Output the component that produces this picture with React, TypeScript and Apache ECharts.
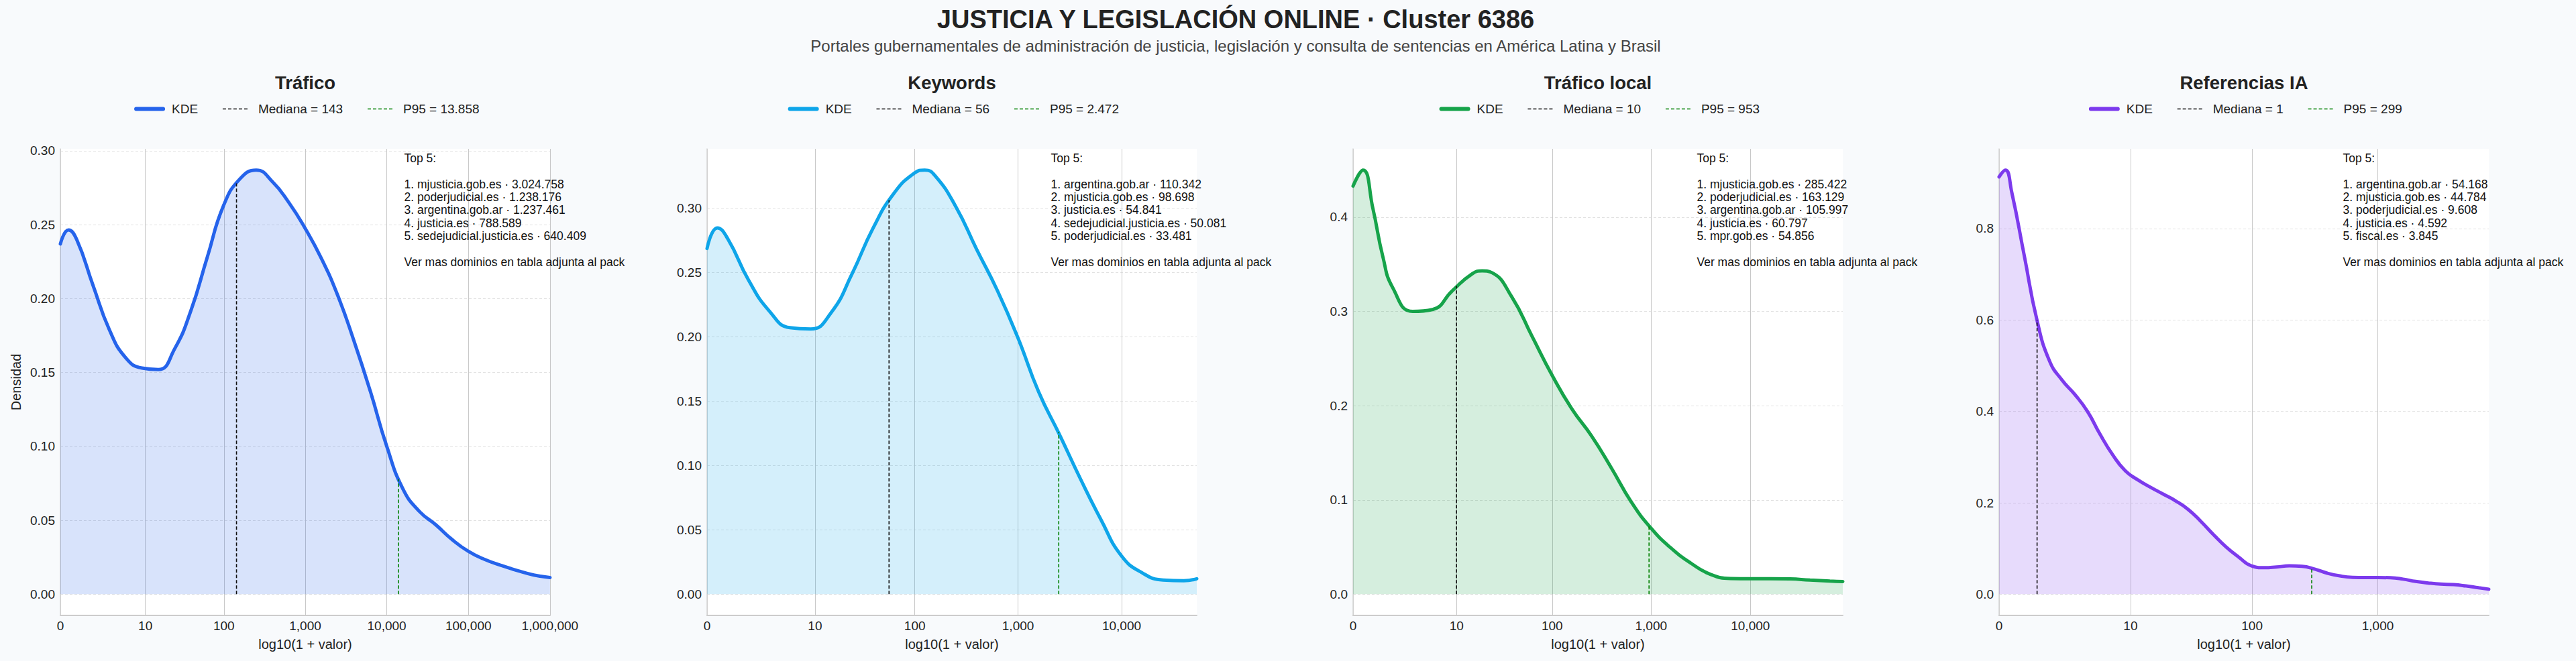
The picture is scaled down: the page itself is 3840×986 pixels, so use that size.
import React, { useEffect, useRef } from "react";
import * as echarts from "echarts";

const FONT = "'Liberation Sans', Arial, sans-serif";

const panelTitles = ["Tráfico", "Keywords", "Tráfico local", "Referencias IA"];
const panelColors = ["#2563eb", "#0ea5e9", "#16a34a", "#7c3aed"];

// KDE curves; x is log10(1 + valor)
const traficoX = [0, 0.1, 0.2, 0.4, 0.6, 0.8, 1.0, 1.2, 1.4, 1.6, 1.8, 2.0, 2.2, 2.4, 2.6, 2.8, 3.0, 3.2, 3.4, 3.6, 3.8, 4.0, 4.2, 4.4, 4.6, 4.8, 5.0, 5.2, 5.4, 5.6, 5.8, 6.0];
const traficoY = [0.237, 0.2465, 0.24, 0.209, 0.179, 0.16, 0.153, 0.152, 0.166, 0.192, 0.228, 0.263, 0.281, 0.287, 0.279, 0.265, 0.2475, 0.227, 0.202, 0.171, 0.137, 0.1, 0.071, 0.056, 0.047, 0.037, 0.029, 0.0235, 0.0195, 0.016, 0.013, 0.0113];

const keywordsX = [0, 0.1, 0.2, 0.4, 0.6, 0.8, 1.0, 1.2, 1.4, 1.6, 1.8, 2.0, 2.1, 2.2, 2.4, 2.6, 2.8, 3.0, 3.2, 3.4, 3.6, 3.8, 4.0, 4.2, 4.4, 4.6, 4.725];
const keywordsY = [0.2685, 0.2845, 0.276, 0.244, 0.22, 0.207, 0.206, 0.219, 0.249, 0.284, 0.311, 0.327, 0.3294, 0.325, 0.301, 0.268, 0.236, 0.199, 0.157, 0.124, 0.09, 0.058, 0.0296, 0.0165, 0.011, 0.0105, 0.012];

const localX = [0, 0.1, 0.2, 0.3, 0.4, 0.6, 0.8, 1.0, 1.2, 1.3, 1.4, 1.6, 1.8, 2.0, 2.2, 2.4, 2.6, 2.8, 3.0, 3.2, 3.4, 3.6, 3.8, 4.0, 4.2, 4.4, 4.6, 4.8, 4.93];
const localY = [0.433, 0.45, 0.409, 0.358, 0.325, 0.3, 0.302, 0.322, 0.34, 0.343, 0.341, 0.315, 0.274, 0.233, 0.197, 0.168, 0.134, 0.098, 0.07, 0.049, 0.033, 0.021, 0.0167, 0.0165, 0.0165, 0.0162, 0.015, 0.014, 0.0135];

const iaX = [0, 0.05, 0.1, 0.2, 0.3, 0.4, 0.5, 0.6, 0.7, 0.8, 0.9, 1.0, 1.1, 1.2, 1.3, 1.4, 1.5, 1.6, 1.7, 1.8, 1.9, 2.0, 2.1, 2.2, 2.3, 2.4, 2.5, 2.6, 2.7, 2.8, 2.9, 3.0, 3.1, 3.2, 3.3, 3.4, 3.5, 3.6, 3.7, 3.8, 3.88];
const iaY = [0.913, 0.928, 0.88, 0.74, 0.6, 0.51, 0.468, 0.437, 0.4, 0.35, 0.305, 0.27, 0.25, 0.234, 0.219, 0.204, 0.185, 0.159, 0.13, 0.103, 0.081, 0.062, 0.058, 0.0595, 0.062, 0.061, 0.055, 0.046, 0.04, 0.037, 0.0365, 0.0365, 0.036, 0.033, 0.028, 0.0245, 0.022, 0.021, 0.018, 0.014, 0.011];

const curveX = [traficoX, keywordsX, localX, iaX];
const curveY = [traficoY, keywordsY, localY, iaY];

const medianValues = [143, 56, 10, 1];
const p95Values = [13858, 2472, 953, 299];
const medianTops = [0.278, 0.306, 0.327, 0.6];
const p95Tops = [0.078, 0.126, 0.072, 0.0566];

const xTickValues = [
  [0, 10, 100, 1000, 10000, 100000, 1000000],
  [0, 10, 100, 1000, 10000],
  [0, 10, 100, 1000, 10000],
  [0, 10, 100, 1000],
];
const xMax = [6.001, 4.725, 4.93, 3.88];
const yTickValues = [
  [0, 0.05, 0.1, 0.15, 0.2, 0.25, 0.3],
  [0, 0.05, 0.1, 0.15, 0.2, 0.25, 0.3],
  [0, 0.1, 0.2, 0.3, 0.4],
  [0, 0.2, 0.4, 0.6, 0.8],
];
const yDecimals = [2, 2, 1, 1];

const top5Domains = [
  ["mjusticia.gob.es", "poderjudicial.es", "argentina.gob.ar", "justicia.es", "sedejudicial.justicia.es"],
  ["argentina.gob.ar", "mjusticia.gob.es", "justicia.es", "sedejudicial.justicia.es", "poderjudicial.es"],
  ["mjusticia.gob.es", "poderjudicial.es", "argentina.gob.ar", "justicia.es", "mpr.gob.es"],
  ["argentina.gob.ar", "mjusticia.gob.es", "poderjudicial.es", "justicia.es", "fiscal.es"],
];
const top5Values = [
  [3024758, 1238176, 1237461, 788589, 640409],
  [110342, 98698, 54841, 50081, 33481],
  [285422, 163129, 105997, 60797, 54856],
  [54168, 44784, 9608, 4592, 3845],
];

const gridLefts = [90, 1054, 2017, 2980];
const gridWidth = 730;
const gridTop = 222;
const gridHeight = 696;

const dots = (n: number) => String(n).replace(/\B(?=(\d{3})+(?!\d))/g, ".");
const commas = (n: number) => String(n).replace(/\B(?=(\d{3})+(?!\d))/g, ",");
const toLog = (v: number) => Math.log10(1 + v);

const App: React.FC = () => {
  const chartRef = useRef<HTMLDivElement>(null);

  useEffect(() => {
    document.body.style.margin = "0";
    document.body.style.overflow = "hidden";
    if (!chartRef.current) return;
    const chart = echarts.init(chartRef.current, undefined, { renderer: "svg" });

    const ctx = document.createElement("canvas").getContext("2d")!;
    ctx.font = `19px ${FONT}`;

    const grids: any[] = [];
    const xAxes: any[] = [];
    const yAxes: any[] = [];
    const series: any[] = [];
    const legends: any[] = [];
    const graphics: any[] = [
      {
        type: "text",
        x: 1842,
        y: 29,
        style: {
          text: "JUSTICIA Y LEGISLACIÓN ONLINE · Cluster 6386",
          font: `bold 38px ${FONT}`,
          fill: "#222222",
          align: "center",
          verticalAlign: "middle",
        },
      },
      {
        type: "text",
        x: 1842,
        y: 68,
        style: {
          text: "Portales gubernamentales de administración de justicia, legislación y consulta de sentencias en América Latina y Brasil",
          font: `24px ${FONT}`,
          fill: "#444444",
          align: "center",
          verticalAlign: "middle",
        },
      },
    ];

    panelTitles.forEach((title, i) => {
      const left = gridLefts[i];
      const ys = curveY[i];
      const yMaxData = Math.max(...ys);
      const pad = yMaxData * 0.05;

      grids.push({
        left,
        top: gridTop,
        width: gridWidth,
        height: gridHeight,
        show: true,
        backgroundColor: "#ffffff",
        borderWidth: 0,
      });

      xAxes.push({
        type: "value",
        gridIndex: i,
        min: 0,
        max: xMax[i],
        name: "log10(1 + valor)",
        nameLocation: "middle",
        nameGap: 33,
        nameTextStyle: { fontSize: 20, color: "#222", fontFamily: FONT },
        axisLine: { show: true, onZero: false, lineStyle: { color: "#cccccc", width: 2 } },
        axisTick: { show: false, customValues: xTickValues[i].map(toLog) },
        axisLabel: {
          customValues: xTickValues[i].map(toLog),
          fontSize: 19,
          color: "#222",
          fontFamily: FONT,
          margin: 6,
          formatter: (v: number) => commas(Math.round(Math.pow(10, v) - 1)),
        },
        splitLine: { show: true, lineStyle: { color: "#c8c8c8", width: 1 } },
      });

      yAxes.push({
        type: "value",
        gridIndex: i,
        min: -pad,
        max: yMaxData + pad,
        name: i === 0 ? "Densidad" : "",
        nameLocation: "middle",
        nameGap: 56,
        nameTextStyle: { fontSize: 20, color: "#222", fontFamily: FONT },
        axisLine: { show: true, onZero: false, lineStyle: { color: "#d4d4d4", width: 1.5 } },
        axisTick: { show: false, customValues: yTickValues[i] },
        axisLabel: {
          customValues: yTickValues[i],
          fontSize: 19,
          color: "#222",
          fontFamily: FONT,
          margin: 8,
          formatter: (v: number) => v.toFixed(yDecimals[i]),
        },
        splitLine: { show: true, lineStyle: { color: "#e2e2e2", width: 1, type: [4, 3] } },
      });

      const kdeName = `KDE#${i}`;
      const medName = `Mediana = ${dots(medianValues[i])}#${i}`;
      const p95Name = `P95 = ${dots(p95Values[i])}#${i}`;
      const mx = toLog(medianValues[i]);
      const px = toLog(p95Values[i]);

      series.push(
        {
          type: "line",
          name: kdeName,
          xAxisIndex: i,
          yAxisIndex: i,
          data: curveX[i].map((x, k) => [x, ys[k]]),
          smooth: 0.5,
          symbol: "none",
          lineStyle: { color: panelColors[i], width: 5, cap: "round" },
          itemStyle: { color: panelColors[i] },
          areaStyle: { color: panelColors[i], opacity: 0.18 },
          z: 3,
        },
        {
          type: "line",
          name: medName,
          xAxisIndex: i,
          yAxisIndex: i,
          data: [
            [mx, 0],
            [mx, medianTops[i]],
          ],
          symbol: "none",
          lineStyle: { color: "#111111", width: 1.6, type: [5, 3] },
          itemStyle: { color: "#111111" },
          z: 4,
        },
        {
          type: "line",
          name: p95Name,
          xAxisIndex: i,
          yAxisIndex: i,
          data: [
            [px, 0],
            [px, p95Tops[i]],
          ],
          symbol: "none",
          lineStyle: { color: "#008000", width: 1.6, type: [5, 3] },
          itemStyle: { color: "#008000" },
          z: 4,
        }
      );

      const names = [kdeName, medName, p95Name];
      const itemW = 40;
      const gap = 36;
      const total =
        names.reduce((s, n) => s + itemW + 5 + 8 + ctx.measureText(n.split("#")[0]).width, 0) +
        gap * (names.length - 1);
      const center = left + gridWidth / 2;

      legends.push({
        left: center - total / 2,
        top: 153,
        padding: 0,
        itemWidth: itemW,
        itemHeight: 14,
        itemGap: gap,
        itemStyle: { opacity: 0 },
        textStyle: { fontSize: 19, color: "#222", fontFamily: FONT, padding: [0, 0, 0, 8] },
        data: [
          { name: kdeName, lineStyle: { width: 6, cap: "round", color: panelColors[i] } },
          { name: medName, lineStyle: { width: 1.6, type: [5, 3], color: "#111111" } },
          { name: p95Name, lineStyle: { width: 1.6, type: [5, 3], color: "#008000" } },
        ],
        formatter: (n: string) => n.split("#")[0],
        selectedMode: false,
      });

      graphics.push({
        type: "text",
        x: center,
        y: 123,
        style: {
          text: title,
          font: `bold 27.5px ${FONT}`,
          fill: "#222222",
          align: "center",
          verticalAlign: "middle",
        },
      });

      const lines = top5Domains[i].map((d, k) => `${k + 1}. ${d} · ${dots(top5Values[i][k])}`);
      graphics.push({
        type: "text",
        x: left + gridWidth * 0.702,
        y: 226,
        z: 10,
        style: {
          text: ["Top 5:", "", ...lines, "", "Ver mas dominios en tabla adjunta al pack"].join("\n"),
          font: `17.5px ${FONT}`,
          lineHeight: 19.4,
          fill: "#111111",
          align: "left",
          verticalAlign: "top",
        },
      });
    });

    chart.setOption({
      animation: false,
      backgroundColor: "#f8fafc",
      textStyle: { fontFamily: FONT },
      grid: grids,
      xAxis: xAxes,
      yAxis: yAxes,
      legend: legends,
      series,
      graphic: graphics,
    });

    return () => {
      chart.dispose();
    };
  }, []);

  return <div ref={chartRef} style={{ width: "3840px", height: "986px" }} />;
};

export default App;
